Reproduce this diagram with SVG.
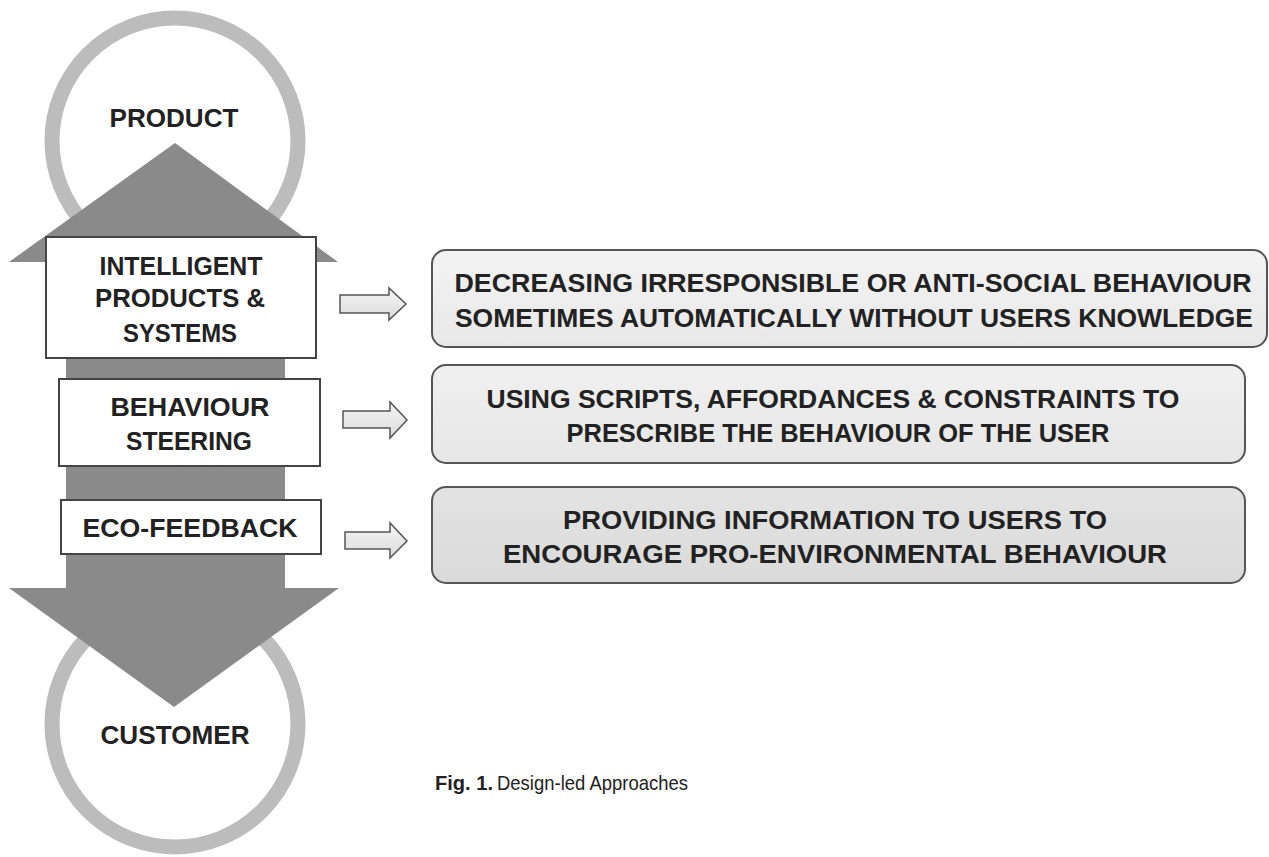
<svg xmlns="http://www.w3.org/2000/svg" width="1269" height="857" viewBox="0 0 1269 857">
<style>
.t{font-family:"Liberation Sans",Arial,sans-serif;font-weight:bold;font-size:26px;fill:#222;text-anchor:middle}
.ring{fill:#fff;stroke:#bcbcbc;stroke-width:15}
.lbox{fill:#fff;stroke:#444;stroke-width:2}
.rbox{stroke:#555;stroke-width:2}
.sa{fill:url(#ga);stroke:#555;stroke-width:1.5}
.cap{font-family:"Liberation Sans",Arial,sans-serif;font-size:21px;fill:#222}
</style>
<defs>
<linearGradient id="g1" x1="0" y1="0" x2="0" y2="1"><stop offset="0" stop-color="#f3f3f3"/><stop offset="1" stop-color="#e8e8e8"/></linearGradient>
<linearGradient id="g2" x1="0" y1="0" x2="0" y2="1"><stop offset="0" stop-color="#f0f0f0"/><stop offset="1" stop-color="#e6e6e6"/></linearGradient>
<linearGradient id="g3" x1="0" y1="0" x2="0" y2="1"><stop offset="0" stop-color="#e3e3e3"/><stop offset="1" stop-color="#dadada"/></linearGradient>
<linearGradient id="ga" x1="0" y1="0" x2="0" y2="1"><stop offset="0" stop-color="#f4f4f4"/><stop offset="1" stop-color="#dcdcdc"/></linearGradient>
</defs>
<g id="product">
<circle class="ring" cx="175" cy="141" r="123"/>
<text class="t" x="174" y="127" textLength="129" lengthAdjust="spacingAndGlyphs">PRODUCT</text>
</g>
<g id="customer">
<circle class="ring" cx="175" cy="724" r="123"/>
<text class="t" x="175" y="744" textLength="149" lengthAdjust="spacingAndGlyphs">CUSTOMER</text>
</g>
<g id="main-arrow">
<polygon fill="#8a8a8a" points="175,143 338,262 285,262 285,588 339,588 174,707 9,588 66,588 66,262 9,262"/>
</g>
<g id="intelligent">
<rect class="lbox" x="46" y="237" width="270" height="121"/>
<text class="t" x="181" y="275" textLength="163" lengthAdjust="spacingAndGlyphs">INTELLIGENT</text>
<text class="t" x="180" y="307" textLength="170" lengthAdjust="spacingAndGlyphs">PRODUCTS &amp;</text>
<text class="t" x="180" y="342" textLength="114" lengthAdjust="spacingAndGlyphs">SYSTEMS</text>
</g>
<g id="steering">
<rect class="lbox" x="59" y="379" width="261" height="87"/>
<text class="t" x="190" y="416" textLength="159" lengthAdjust="spacingAndGlyphs">BEHAVIOUR</text>
<text class="t" x="189" y="450" textLength="126" lengthAdjust="spacingAndGlyphs">STEERING</text>
</g>
<g id="eco">
<rect class="lbox" x="61" y="500" width="260" height="54"/>
<text class="t" x="190" y="537" textLength="215" lengthAdjust="spacingAndGlyphs">ECO-FEEDBACK</text>
</g>
<g id="connectors">
<polygon class="sa" points="340,295 389,295 389,288 406,304 389,320 389,313 340,313"/>
<polygon class="sa" points="343,411 390,411 390,402 407,420 390,438 390,428 343,428"/>
<polygon class="sa" points="345,532 390,532 390,523 407,541 390,558 390,549 345,549"/>
</g>
<g id="desc-a">
<rect class="rbox" fill="url(#g1)" x="432" y="250" width="835" height="97" rx="14"/>
<text class="t" x="853" y="292" textLength="797" lengthAdjust="spacingAndGlyphs">DECREASING IRRESPONSIBLE OR ANTI-SOCIAL BEHAVIOUR</text>
<text class="t" x="854" y="327" textLength="798" lengthAdjust="spacingAndGlyphs">SOMETIMES AUTOMATICALLY WITHOUT USERS KNOWLEDGE</text>
</g>
<g id="desc-b">
<rect class="rbox" fill="url(#g2)" x="432" y="365" width="813" height="98" rx="14"/>
<text class="t" x="833" y="408" textLength="693" lengthAdjust="spacingAndGlyphs">USING SCRIPTS, AFFORDANCES &amp; CONSTRAINTS TO</text>
<text class="t" x="838" y="442" textLength="543" lengthAdjust="spacingAndGlyphs">PRESCRIBE THE BEHAVIOUR OF THE USER</text>
</g>
<g id="desc-c">
<rect class="rbox" fill="url(#g3)" x="432" y="487" width="813" height="96" rx="14"/>
<text class="t" x="835" y="529" textLength="544" lengthAdjust="spacingAndGlyphs">PROVIDING INFORMATION TO USERS TO</text>
<text class="t" x="835" y="563" textLength="664" lengthAdjust="spacingAndGlyphs">ENCOURAGE PRO-ENVIRONMENTAL BEHAVIOUR</text>
</g>
<g id="caption">
<text class="cap" x="435" y="790" font-weight="bold" textLength="58" lengthAdjust="spacingAndGlyphs">Fig. 1.</text>
<text class="cap" x="497" y="790" textLength="191" lengthAdjust="spacingAndGlyphs">Design-led Approaches</text>
</g>
</svg>
